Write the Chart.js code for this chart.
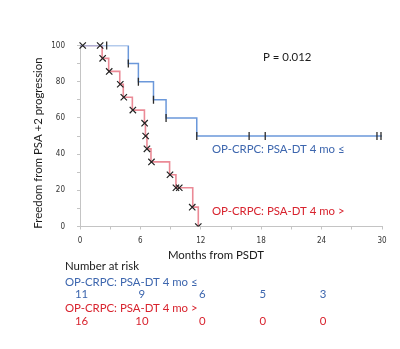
<!DOCTYPE html>
<html>
<head>
<meta charset="utf-8">
<script src="https://cdn.jsdelivr.net/npm/chart.js@4"></script>
<style>
  html, body { margin: 0; padding: 0; background: #fff; }
  #wrap { width: 400px; height: 349px; position: relative; }
</style>
</head>
<body>
<div id="wrap"><canvas id="km" width="400" height="349"></canvas></div>
<script>
// --- data ---
const riskMonths = [0, 6, 12, 18, 24];
const riskLow  = [11, 9, 6, 5, 3];
const riskHigh = [16, 10, 0, 0, 0];

// PSA-DT 4 mo <= (blue)
const lowTimes = [0, 4.8, 5.8, 7.3, 8.55, 11.6, 30];
const lowSurv  = [100, 90, 80, 70, 60, 50, 50];
const lowCensorTimes = [2.65, 4.8, 5.8, 7.3, 8.55, 11.6, 16.8, 18.4, 29.5, 29.9];
const lowCensorSurv  = [100, 90, 80, 70, 60, 50, 50, 50, 50, 50];

// PSA-DT 4 mo > (red)
const highTimes = [0, 2.2, 2.85, 3.95, 4.3, 5.2, 6.4, 6.5, 6.65, 7.05, 8.9, 9.53, 11.2, 11.75];
const highSurv  = [100, 92.9, 85.7, 78.6, 71.4, 64.3, 57.1, 50, 42.9, 35.7, 28.6, 21.4, 10.7, 0];
const highMarkTimes = [0.27, 2.0, 2.25, 2.9, 4.0, 4.35, 5.25, 6.42, 6.52, 6.65, 7.1, 8.94, 9.53, 9.86, 11.15, 11.75];
const highMarkSurv  = [100, 100, 92.9, 85.7, 78.6, 71.4, 64.3, 57.1, 50, 42.9, 35.7, 28.6, 21.4, 21.4, 10.7, 0];

const pValue = 'P = 0.012';
const lowLabel  = 'OP-CRPC: PSA-DT 4 mo \u2264';
const highLabel = 'OP-CRPC: PSA-DT 4 mo >';

const BLUE_LINE = '#6b98da';
const BLUE_TEXT = '#3d66ae';
const RED_LINE  = 'rgba(222, 60, 80, 0.6)';
const RED_TEXT  = '#d8232e';
const TXT = "'Lato', 'Open Sans', sans-serif";

const pts = (xs, ys) => xs.map((x, i) => ({ x, y: ys[i] }));

// texts drawn around the plot
const textPlugin = {
  id: 'kmText',
  afterDraw(chart) {
    const ctx = chart.ctx;
    const xs = chart.scales.x;
    ctx.save();
    ctx.textBaseline = 'middle';
    ctx.font = `11.4px ${TXT}`;

    ctx.fillStyle = '#1a1a1a';
    ctx.textAlign = 'left';
    ctx.fillText(pValue, 263, 57);

    ctx.fillStyle = BLUE_TEXT;
    ctx.fillText(lowLabel, 212, 149.5);
    ctx.fillStyle = RED_TEXT;
    ctx.fillText(highLabel, 212, 211);

    // axis titles
    ctx.fillStyle = '#1a1a1a';
    ctx.textAlign = 'center';
    ctx.fillText('Months from PSDT', 216, 255);
    ctx.save();
    ctx.translate(38.5, 143);
    ctx.rotate(-Math.PI / 2);
    ctx.fillText('Freedom from PSA +2 progression', 0, 0);
    ctx.restore();

    // number at risk table
    ctx.textAlign = 'left';
    ctx.fillText('Number at risk', 65, 266);
    ctx.fillStyle = BLUE_TEXT;
    ctx.fillText(lowLabel, 65, 282.5);
    ctx.fillStyle = RED_TEXT;
    ctx.fillText(highLabel, 65, 308);

    ctx.textAlign = 'center';
    riskMonths.forEach((m, i) => {
      const px = xs.getPixelForValue(m) + 1.5;
      ctx.fillStyle = BLUE_TEXT;
      ctx.fillText(String(riskLow[i]), px, 294.5);
      ctx.fillStyle = RED_TEXT;
      ctx.fillText(String(riskHigh[i]), px, 321);
    });
    ctx.restore();
  }
};

const tickFont = { family: "'Liberation Sans Narrow', 'DejaVu Sans Condensed', sans-serif", size: 8 };

new Chart(document.getElementById('km'), {
  type: 'line',
  data: {
    datasets: [{
      // censor ticks, blue group
      data: pts(lowCensorTimes, lowCensorSurv),
      showLine: false,
      pointStyle: 'line',
      rotation: 90,
      pointRadius: 4,
      borderColor: '#2b2b2b',
      backgroundColor: '#2b2b2b',
      pointBorderWidth: 1.3,
      clip: { left: 10, top: 10, right: 10, bottom: 0 }
    }, {
      // crosses, red group
      data: pts(highMarkTimes, highMarkSurv),
      showLine: false,
      pointStyle: 'crossRot',
      pointRadius: 4.5,
      borderColor: '#222',
      backgroundColor: '#222',
      pointBorderWidth: 1.2,
      clip: { left: 10, top: 10, right: 10, bottom: 0 }
    }, {
      data: pts(lowTimes, lowSurv),
      stepped: 'before',
      borderColor: BLUE_LINE,
      borderWidth: 1.5,
      pointRadius: 0,
      fill: false
    }, {
      data: pts(highTimes, highSurv),
      stepped: 'before',
      borderColor: RED_LINE,
      borderWidth: 1.6,
      pointRadius: 0,
      fill: false
    }]
  },
  options: {
    responsive: false,
    animation: false,
    devicePixelRatio: 1,
    layout: { padding: { top: 45.5, right: 18, left: 0, bottom: 0 } },
    plugins: { legend: { display: false }, tooltip: { enabled: false } },
    scales: {
      x: {
        type: 'linear',
        min: 0, max: 30,
        afterFit: (s) => { s.height = 349 - 226.5; },
        border: { color: '#c4c4c4', width: 1 },
        grid: { drawOnChartArea: false, drawTicks: true, tickLength: 3, color: '#c4c4c4' },
        ticks: {
          stepSize: 3,
          autoSkip: false,
          maxRotation: 0,
          padding: 7,
          color: '#333',
          font: tickFont,
          callback: (v) => (v % 6 === 0 ? String(v) : '')
        }
      },
      y: {
        min: 0, max: 100,
        afterFit: (s) => { s.width = 80; },
        border: { color: '#c4c4c4', width: 1 },
        grid: { drawOnChartArea: false, drawTicks: true, tickLength: 3, color: '#c4c4c4' },
        ticks: {
          stepSize: 10,
          autoSkip: false,
          padding: 12,
          color: '#333',
          font: tickFont,
          callback: (v) => (v % 20 === 0 ? String(v) : '')
        }
      }
    }
  },
  plugins: [textPlugin]
});
</script>
</body>
</html>
